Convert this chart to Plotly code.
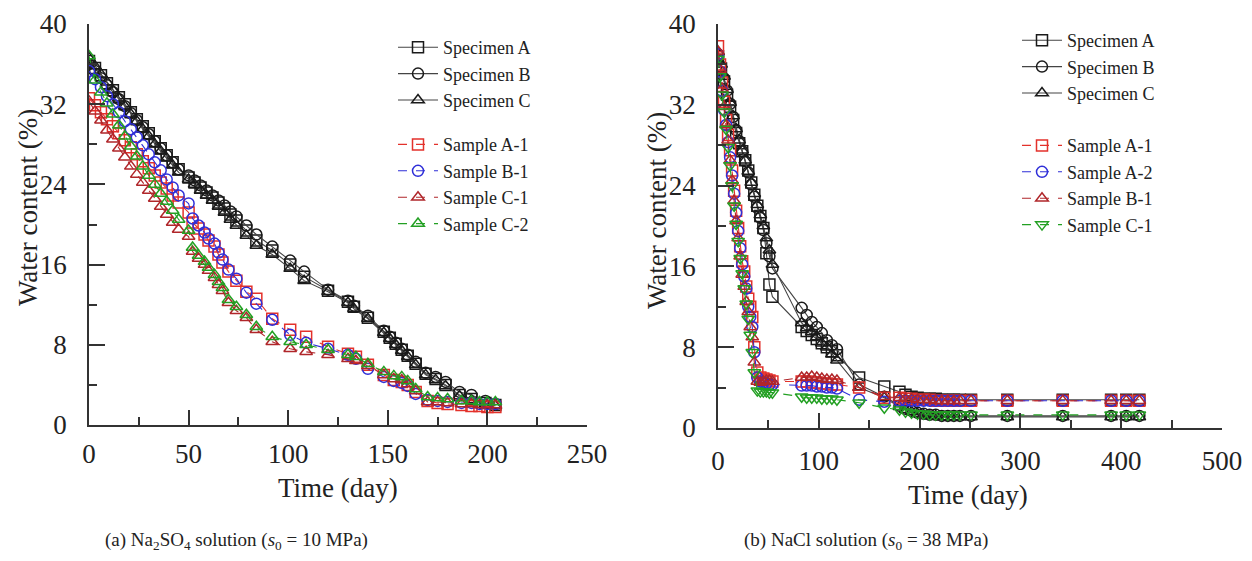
import plotly.graph_objects as go

# page offset of the plot div (browser default body margin) is compensated
OFF = 8
W, H = 1252 - OFF, 561 - OFF
FONT = "Liberation Serif"

# ---------------- (a) Na2SO4 solution ----------------
a_spec_days = [0, 3, 6, 9, 12, 15, 18, 21, 24, 27, 30, 33, 36, 39, 42, 45,
               50, 53, 56, 59, 62, 65, 68, 71, 74, 79, 84, 92, 101, 108,
               120, 130, 133, 140, 148, 151, 154, 157, 160, 164,
               169, 174, 179, 186, 192, 199, 204]
a_spec_A = [36.3, 35.6, 34.9, 34.1, 33.4, 32.7, 32.0, 31.2, 30.5, 29.8, 29.1, 28.3, 27.6, 26.9, 26.2, 25.5,
            24.7, 24.2, 23.7, 23.2, 22.7, 22.2, 21.6, 21.0, 20.4, 19.4, 18.4, 17.4, 16.0, 14.8,
            13.4, 12.3, 11.8, 10.7, 9.3, 8.7, 8.1, 7.5, 6.9, 6.1,
            5.1, 4.6, 4.0, 3.0, 2.6, 2.2, 2.0]
a_spec_B = [36.0, 35.3, 34.6, 33.9, 33.2, 32.5, 31.8, 31.1, 30.4, 29.7, 29.0, 28.3, 27.6, 26.9, 26.2, 25.5,
            24.9, 24.4, 23.9, 23.4, 22.9, 22.4, 21.9, 21.3, 20.8, 19.9, 19.0, 17.8, 16.4, 15.3,
            13.5, 12.4, 11.9, 10.9, 9.4, 8.8, 8.2, 7.6, 7.0, 6.3,
            5.2, 4.8, 4.3, 3.3, 3.0, 2.4, 2.1]
a_spec_C = [36.6, 35.8, 35.0, 34.2, 33.4, 32.6, 31.8, 31.0, 30.3, 29.5, 28.8, 28.0, 27.3, 26.6, 25.9, 25.2,
            24.5, 24.0, 23.4, 22.9, 22.4, 21.8, 21.2, 20.5, 19.9, 18.9, 17.9, 17.0, 15.6, 14.4,
            13.3, 12.2, 11.6, 10.6, 9.2, 8.6, 8.0, 7.4, 6.8, 6.0,
            5.0, 4.5, 3.9, 2.9, 2.5, 2.1, 1.9]

a_samp_days = [0, 3, 6, 9, 12, 15, 18, 21, 24, 27, 30, 33, 36, 39, 42, 45,
               50, 52, 55, 58, 60, 63, 65, 67, 70, 74,
               79, 84, 92, 101, 109,
               120, 130, 134, 140,
               148, 153, 157, 160, 164,
               170, 175, 180, 187, 192, 196, 200, 204]
a_A1 = [32.6, 31.9, 31.2, 30.5, 29.8, 29.1, 28.4, 27.7, 27.0, 26.3, 25.6, 24.9, 24.2, 23.6, 22.9, 22.2,
        21.2, 20.2, 19.6, 19.0, 18.4, 17.8, 17.0, 16.2, 15.3, 14.4,
        13.3, 12.6, 10.6, 9.5, 8.8,
        7.8, 7.1, 6.8, 6.0,
        5.0, 4.5, 4.3, 4.0, 3.3,
        2.4, 2.2, 2.1, 2.0, 1.9, 1.9, 1.8, 1.8]
a_B1 = [35.3, 34.5, 33.7, 32.8, 32.0, 31.2, 30.3, 29.5, 28.7, 27.9, 27.0, 26.2, 25.4, 24.5, 23.7, 22.9,
        22.1, 20.6, 19.9, 19.2, 18.6, 18.1, 17.2, 16.5, 15.5, 14.6,
        13.2, 12.1, 10.5, 9.0, 8.2,
        7.6, 7.0, 6.6, 5.6,
        4.8, 4.4, 4.2, 3.9, 3.1,
        2.5, 2.4, 2.3, 2.2, 2.2, 2.1, 2.1, 2.1]
a_C1 = [32.3, 31.3, 30.4, 29.4, 28.5, 27.6, 26.7, 25.8, 25.0, 24.2, 23.4, 22.6, 21.8, 21.0, 20.2, 19.5,
        18.8, 17.3, 16.6, 16.0, 15.4, 14.7, 14.0, 13.4, 12.2, 11.4,
        10.7, 9.5, 8.3, 7.6, 7.3,
        7.0, 6.6, 6.4, 5.9,
        5.0, 4.6, 4.5, 4.1, 3.4,
        2.3, 2.3, 2.2, 2.1, 2.1, 2.0, 2.0, 2.0]
a_C2 = [36.8, 34.4, 33.2, 32.1, 31.0, 29.9, 28.8, 27.8, 26.8, 25.8, 24.9, 24.0, 23.1, 22.3, 21.4, 20.5,
        19.4, 17.7, 16.9, 16.3, 15.7, 15.0, 14.3, 13.7, 12.5, 11.8,
        11.0, 9.8, 8.8, 8.3, 8.0,
        7.5, 7.0, 6.8, 6.1,
        5.3, 4.9, 4.8, 4.4, 3.6,
        2.8, 2.7, 2.6, 2.4, 2.4, 2.3, 2.3, 2.3]

# ---------------- (b) NaCl solution ----------------
b_spec_days = [0, 3, 6, 9, 12, 15, 18, 21, 24, 27, 30, 33, 36, 39, 42, 45, 48, 51, 54,
               83, 88, 93, 98, 103, 108, 113, 118,
               140, 165,
               180, 186, 192, 198, 204, 210, 216, 222, 228, 234, 240,
               251, 287, 342, 390, 405, 418]
b_spec_A = [36.8, 35.6, 34.3, 33.0, 31.8, 30.5, 29.2, 28.2, 27.4, 26.5, 25.5, 24.3, 23.1, 22.0, 21.0, 19.8, 17.3, 14.2, 13.0,
            10.0, 9.6, 9.2, 8.8, 8.4, 8.0, 7.6, 7.2,
            5.0, 4.1,
            3.6, 3.3, 3.1, 3.0, 2.9, 2.9, 2.9, 2.8, 2.8, 2.8, 2.8,
            2.8, 2.8, 2.8, 2.8, 2.8, 2.8]
b_spec_B = [37.0, 35.8, 34.6, 33.4, 32.1, 30.8, 29.5, 28.4, 27.4, 26.4, 25.3, 24.1, 22.9, 21.8, 20.8, 19.6, 18.3, 17.0, 15.8,
            11.9, 11.2, 10.5, 10.0, 9.4, 8.7, 8.2, 7.8,
            4.3, 3.1,
            2.2, 1.9, 1.7, 1.5, 1.4, 1.3, 1.3, 1.2, 1.2, 1.2, 1.2,
            1.2, 1.2, 1.2, 1.2, 1.2, 1.2]
b_spec_C = [37.2, 36.0, 34.8, 33.5, 32.2, 30.9, 29.6, 28.5, 27.5, 26.5, 25.4, 24.3, 23.2, 22.1, 21.1, 20.0, 18.8, 17.6, 16.2,
            10.4, 9.9, 9.5, 9.0, 8.4, 8.0, 7.3, 6.7,
            4.0, 3.0,
            2.1, 1.8, 1.6, 1.4, 1.3, 1.2, 1.2, 1.1, 1.1, 1.1, 1.1,
            1.1, 1.1, 1.1, 1.1, 1.1, 1.1]

b_samp_days = [0, 2, 4, 6, 8, 10, 12, 14, 16, 18, 20, 22, 24, 26, 28, 30, 32, 34, 36,
               39, 42, 45, 48, 51, 54,
               83, 88, 93, 98, 103, 108, 113, 118,
               140, 165,
               180, 186, 192, 198, 204, 210, 216, 222, 228, 234, 240,
               251, 287, 342, 390, 405, 418]
b_A1 = [37.8, 36.0, 34.2, 32.3, 30.5, 29.0, 27.5, 25.5, 23.5, 21.5, 19.8, 18.0, 16.5, 15.5, 14.0, 12.8, 12.0, 11.0, 8.0,
        5.5, 5.0, 4.9, 4.8, 4.7, 4.6,
        4.6, 4.6, 4.5, 4.5, 4.4, 4.4, 4.3, 4.3,
        4.0, 3.0,
        3.0, 2.9, 2.9, 2.8, 2.8, 2.8, 2.7, 2.7, 2.7, 2.7, 2.7,
        2.7, 2.7, 2.7, 2.7, 2.7, 2.7]
b_A2 = [37.0, 35.3, 33.4, 31.5, 30.0, 28.3, 26.8, 25.0, 23.2, 21.3, 19.5, 17.8, 16.2, 15.0, 13.8, 12.0, 11.0, 10.0, 7.5,
        5.0, 4.6, 4.5, 4.4, 4.3, 4.3,
        4.2, 4.2, 4.2, 4.1, 4.1, 4.0, 4.0, 3.9,
        2.8, 2.6,
        2.7, 2.7, 2.7, 2.7, 2.7, 2.7, 2.7, 2.7, 2.7, 2.7, 2.7,
        2.7, 2.7, 2.7, 2.7, 2.7, 2.7]
b_B1 = [37.3, 35.5, 33.6, 31.8, 30.0, 28.5, 26.5, 24.5, 22.5, 20.5, 18.8, 17.0, 15.2, 14.0, 12.5, 11.5, 10.0, 9.0, 6.5,
        4.6, 4.5, 4.6, 4.7, 4.7, 4.6,
        5.0, 5.0, 5.1, 5.0, 4.9, 4.8, 4.8, 4.7,
        4.0, 3.1,
        3.0, 2.9, 2.9, 2.8, 2.8, 2.8, 2.7, 2.7, 2.7, 2.7, 2.7,
        2.7, 2.7, 2.7, 2.7, 2.7, 2.7]
b_C1 = [36.5, 34.8, 33.0, 31.3, 29.6, 27.8, 26.0, 24.0, 22.0, 20.2, 18.5, 16.8, 15.3, 13.8, 12.3, 10.8, 9.2, 7.5, 5.5,
        3.7, 3.6, 3.6, 3.6, 3.5, 3.5,
        3.1, 3.0, 3.0, 3.0, 2.9, 2.9, 2.9, 2.8,
        2.5, 2.0,
        1.8, 1.6, 1.5, 1.4, 1.4, 1.3, 1.3, 1.3, 1.3, 1.3, 1.3,
        1.3, 1.3, 1.3, 1.3, 1.3, 1.3]

spec_names = ["Specimen A", "Specimen B", "Specimen C"]
a_samp_names = ["Sample A-1", "Sample B-1", "Sample C-1", "Sample C-2"]
b_samp_names = ["Sample A-1", "Sample A-2", "Sample B-1", "Sample C-1"]
a_ticks_x = [0, 50, 100, 150, 200, 250]
b_ticks_x = [0, 100, 200, 300, 400, 500]
y_ticks = [0, 8, 16, 24, 32, 40]

# ---------------- styling ----------------
RED = "#e3312b"
BLUE = "#2f2fd8"
DRED = "#b0262a"
GREEN = "#23a023"
BLACK = "#1a1a1a"
AX = "#333333"

spec_sym = ["square-open", "circle-open", "triangle-up-open"]
a_samp_sym = ["square-open", "circle-open", "triangle-up-open", "triangle-up-open"]
a_samp_col = [RED, BLUE, DRED, GREEN]
b_samp_sym = ["square-open", "circle-open", "triangle-up-open", "triangle-down-open"]
b_samp_col = [RED, BLUE, DRED, GREEN]

fig = go.Figure()

def add_spec(days, vals, name, sym, xa, ya, leg):
    fig.add_trace(go.Scatter(
        x=days, y=vals, name=name, mode="lines+markers",
        line=dict(color="#444", width=1.1),
        marker=dict(symbol=sym, size=11, color=BLACK, line=dict(width=1.5, color=BLACK)),
        xaxis=xa, yaxis=ya, legend=leg, legendgroup=leg + "spec"))

def add_samp(days, vals, name, sym, col, xa, ya, leg):
    fig.add_trace(go.Scatter(
        x=days, y=vals, name=name, mode="lines+markers",
        line=dict(color=col, width=1.1, dash="dash"),
        marker=dict(symbol=sym, size=11, color=col, line=dict(width=1.5, color=col)),
        xaxis=xa, yaxis=ya, legend=leg, legendgroup=leg + "samp"))

for vals, nm, sy in zip([a_spec_A, a_spec_B, a_spec_C], spec_names, spec_sym):
    add_spec(a_spec_days, vals, nm, sy, "x", "y", "legend")
for vals, nm, sy, c in zip([a_A1, a_B1, a_C1, a_C2], a_samp_names, a_samp_sym, a_samp_col):
    add_samp(a_samp_days, vals, nm, sy, c, "x", "y", "legend")
for vals, nm, sy in zip([b_spec_A, b_spec_B, b_spec_C], spec_names, spec_sym):
    add_spec(b_spec_days, vals, nm, sy, "x2", "y2", "legend2")
for vals, nm, sy, c in zip([b_A1, b_A2, b_B1, b_C1], b_samp_names, b_samp_sym, b_samp_col):
    add_samp(b_samp_days, vals, nm, sy, c, "x2", "y2", "legend2")

tickfont = dict(family=FONT, size=27, color="#222")

def px_x(p):
    return (p - OFF) / W

def px_y(p):
    return 1 - (p - OFF) / H

def xaxis(dom, rng, ticks, minor_dt, anchor, standoff):
    return dict(domain=dom, range=rng, anchor=anchor, tickvals=ticks,
                showline=True, linecolor=AX, linewidth=1.5, showgrid=False, zeroline=False,
                ticks="inside", ticklen=15, tickwidth=1.5, tickcolor=AX,
                minor=dict(ticks="inside", ticklen=8, tickwidth=1.5, tickcolor=AX, dtick=minor_dt, tick0=0),
                tickfont=tickfont, ticklabelstandoff=standoff, fixedrange=True, automargin=False)

def yaxis(dom, anchor):
    return dict(domain=dom, range=[0, 40], anchor=anchor, tickvals=y_ticks,
                showline=True, linecolor=AX, linewidth=1.5, showgrid=False, zeroline=False,
                ticks="inside", ticklen=16, tickwidth=1.5, tickcolor=AX,
                minor=dict(ticks="inside", ticklen=8, tickwidth=1.5, tickcolor=AX, dtick=4, tick0=0),
                tickfont=tickfont, ticklabelstandoff=15, fixedrange=True, automargin=False)

xa_dom = [px_x(89), px_x(587)]
xb_dom = [px_x(718), px_x(1222)]
ya_dom = [px_y(425), px_y(24)]
yb_dom = [px_y(428), px_y(24)]

legfont = dict(family=FONT, size=18, color="#222")
fig.update_layout(
    width=W, height=H,
    margin=dict(l=0, r=0, t=0, b=0, autoexpand=False),
    paper_bgcolor="white", plot_bgcolor="white",
    font=dict(family=FONT, color="#222"),
    xaxis=xaxis(xa_dom, [0, 250], a_ticks_x, 25, "y", 4),
    yaxis=yaxis(ya_dom, "x"),
    xaxis2=xaxis(xb_dom, [0, 500], b_ticks_x, 50, "y2", 8),
    yaxis2=yaxis(yb_dom, "x2"),
    legend=dict(x=px_x(393), y=px_y(29), xanchor="left", yanchor="top",
                font=legfont, traceorder="grouped", tracegroupgap=18,
                bgcolor="rgba(0,0,0,0)", itemwidth=40),
    legend2=dict(x=px_x(1017), y=px_y(22), xanchor="left", yanchor="top",
                 font=legfont, traceorder="grouped", tracegroupgap=26,
                 bgcolor="rgba(0,0,0,0)", itemwidth=40),
    showlegend=True,
)

title_font = dict(family=FONT, size=27, color="#222")
cap_font = dict(family=FONT, size=19, color="#222")
anns = [
    dict(text="Water content (%)", x=px_x(28), y=px_y(208), textangle=-90, font=title_font),
    dict(text="Time (day)", x=px_x(338), y=px_y(488), font=title_font),
    dict(text="Water content (%)", x=px_x(657), y=px_y(210), textangle=-90, font=title_font),
    dict(text="Time (day)", x=px_x(968), y=px_y(495), font=title_font),
    dict(text="(a) Na<sub>2</sub>SO<sub>4</sub> solution (<i>s</i><sub>0</sub> = 10 MPa)",
         x=px_x(236), y=px_y(541), font=cap_font),
    dict(text="(b) NaCl solution (<i>s</i><sub>0</sub> = 38 MPa)", x=px_x(866), y=px_y(541), font=cap_font),
]
for a in anns:
    fig.add_annotation(xref="paper", yref="paper", showarrow=False,
                       xanchor="center", yanchor="middle", **a)

fig.write_html("out.html")
